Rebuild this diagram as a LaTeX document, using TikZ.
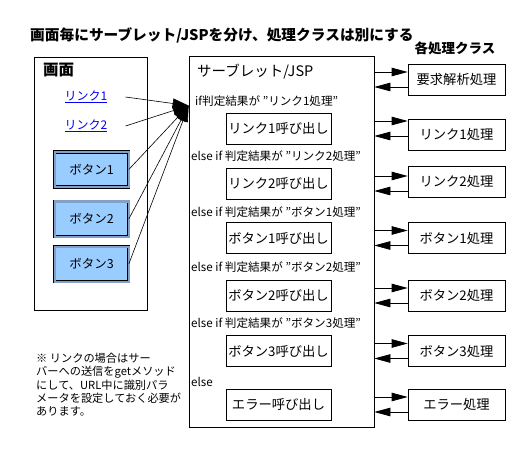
\documentclass[tikz,border=0pt]{standalone}
\usepackage{fontspec}
\setmainfont{Noto Sans CJK JP}
\usetikzlibrary{arrows.meta,calc}
\definecolor{linkblue}{RGB}{0,0,255}
\definecolor{btnfill}{RGB}{153,204,255}
\definecolor{btnbevel}{RGB}{130,160,200}
\begin{document}
\begin{tikzpicture}[x=1pt,y=-1pt,
  box/.style={draw=black,line width=0.7pt,inner sep=0pt},
  callbox/.style={box,minimum width=105pt,minimum height=31pt,font=\fontsize{13.3}{15}\selectfont},
  procbox/.style={box,minimum width=97pt,minimum height=31pt,font=\fontsize{13.3}{15}\selectfont},
  cond/.style={anchor=west,inner sep=0pt,font=\fontsize{11.6}{13}\selectfont},
  btn/.style={draw=black,line width=0.6pt,double=btnbevel,double distance=2pt,fill=btnfill,minimum width=74pt,minimum height=35pt,inner sep=0pt,font=\fontsize{12.5}{14}\selectfont},
  lnk/.style={text=linkblue,font=\fontsize{12}{14}\selectfont,inner sep=0pt},
  arr/.style={-{Triangle[length=16pt,width=8.5pt]},line width=0.7pt},
  fan/.style={-{Triangle[length=16pt,width=10pt]},line width=0.6pt},
  heading/.style={inner sep=0pt,font=\bfseries\fontsize{13.5}{15}\selectfont},
]
\useasboundingbox (0,0) rectangle (529,454);
\fill[white] (0,0) rectangle (529,454);

% titles
\node[heading,anchor=west,font=\bfseries\fontsize{14.7}{16}\selectfont] (title) at (30,35) {画面毎にサーブレット/JSPを分け、処理クラスは別にする};
\node[heading] (proctitle) at (455,48) {各処理クラス};

% screen
\node[box,minimum width=113pt,minimum height=253pt] (screen) at (90.5,183.5) {};
\node[heading,anchor=west,font=\bfseries\fontsize{15.5}{17}\selectfont] (screenlbl) at (43,70) {画面};
\node[lnk] (l1) at (86,97) {\underline{リンク1}};
\node[lnk] (l2) at (86,126) {\underline{リンク2}};
\node[btn] (b1) at (91.5,169.5) {ボタン1};
\node[btn] (b2) at (91.5,219) {ボタン2};
\node[btn] (b3) at (91.5,264) {ボタン3};

% servlet
\node[box,minimum width=185pt,minimum height=371pt] (srv) at (281.5,241.5) {};
\node[inner sep=0pt,anchor=west,font=\fontsize{14.5}{16}\selectfont] (srvlbl) at (197,72) {サーブレット/JSP};

\node[cond] (k1) at (195,101) {if判定結果が "リンク1処理”};
\node[cond] (k2) at (191,156) {else if 判定結果が "リンク2処理”};
\node[cond] (k3) at (191,212) {else if 判定結果が "ボタン1処理”};
\node[cond] (k4) at (191,267) {else if 判定結果が "ボタン2処理”};
\node[cond] (k5) at (191,323) {else if 判定結果が "ボタン3処理”};
\node[cond] (k6) at (191,382) {else};

\node[callbox] (c1) at (278.5,128.5) {リンク1呼び出し};
\node[callbox] (c2) at (278.5,183.5) {リンク2呼び出し};
\node[callbox] (c3) at (278.5,238) {ボタン1呼び出し};
\node[callbox] (c4) at (278.5,295.5) {ボタン2呼び出し};
\node[callbox] (c5) at (278.5,351) {ボタン3呼び出し};
\node[callbox] (c6) at (278.5,404.5) {エラー呼び出し};

% processing classes
\node[procbox] (p0) at (456.5,79.5) {要求解析処理};
\node[procbox] (p1) at (456.5,134.5) {リンク1処理};
\node[procbox] (p2) at (456.5,181.5) {リンク2処理};
\node[procbox] (p3) at (456.5,238) {ボタン1処理};
\node[procbox] (p4) at (456.5,295.5) {ボタン2処理};
\node[procbox] (p5) at (456.5,351) {ボタン3処理};
\node[procbox] (p6) at (456.5,404.5) {エラー処理};

% arrows servlet <-> classes
\coordinate (a0) at ([yshift=7.5pt]p0.center);
\coordinate (r0) at ([yshift=-7.5pt]p0.center);
\draw[arr] (srv.east |- a0) -- (p0.west |- a0);
\draw[arr] (p0.west |- r0) -- (srv.east |- r0);
\foreach \i in {1,...,6}{
  \coordinate (a\i) at ([yshift=7.5pt]c\i.center);
  \coordinate (r\i) at ([yshift=-7.5pt]c\i.center);
  \draw[arr] (srv.east |- a\i) -- (p\i.west |- a\i);
  \draw[arr] (p\i.west |- r\i) -- (srv.east |- r\i);
}

% fan of requests into the servlet
\coordinate (fanpt) at ($(srv.north west)+(0,50)$);
\draw[fan] ([xshift=18pt]l1.east) -- (fanpt);
\draw[fan] ([xshift=18pt]l2.east) -- (fanpt);
\draw[fan] (b1.east) -- (fanpt);
\draw[fan] (b2.east) -- (fanpt);
\draw[fan] (b3.east) -- (fanpt);

% note
\node[inner sep=0pt,anchor=north west,align=left,font=\fontsize{11.2}{13.3}\selectfont] (note) at (36,353)
{※ リンクの場合はサー\\バーへの送信をgetメソッド\\にして、URL中に識別パラ\\メータを設定しておく必要が\\あります。};
\end{tikzpicture}
\end{document}
